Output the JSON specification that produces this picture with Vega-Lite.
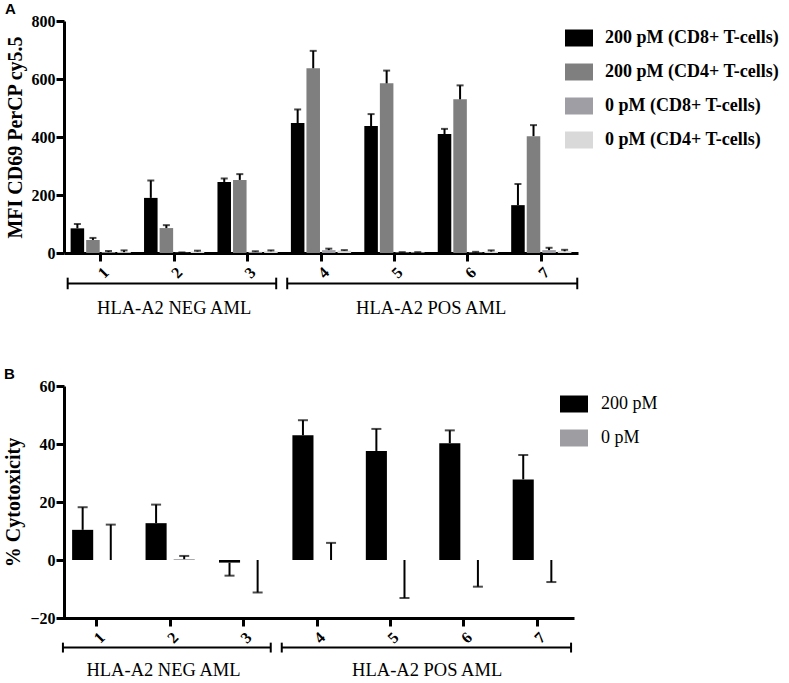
{
  "$schema": "https://vega.github.io/schema/vega-lite/v6.json",
  "background": "white",
  "padding": {"left": 3, "top": 2, "right": 0, "bottom": 0},
  "spacing": 49,
  "resolve": {
    "scale": {"color": "independent", "xOffset": "independent"},
    "legend": {"color": "independent"}
  },
  "config": {
    "view": {"stroke": null},
    "font": "Liberation Serif",
    "axis": {
      "grid": false,
      "domainColor": "black",
      "domainWidth": 3,
      "tickColor": "black",
      "tickWidth": 3,
      "tickSize": 8,
      "labelColor": "black",
      "titleColor": "black",
      "labelFont": "Liberation Serif",
      "titleFont": "Liberation Serif",
      "labelFontSize": 16,
      "labelFontWeight": "bold",
      "titleFontSize": 20,
      "titleFontWeight": "bold"
    },
    "legend": {
      "orient": "none",
      "title": null,
      "symbolType": "M-1,-0.607L1,-0.607L1,0.607L-1,0.607Z",
      "symbolSize": 784,
      "symbolStrokeWidth": 0,
      "labelFont": "Liberation Serif",
      "labelFontSize": 18,
      "labelColor": "black",
      "labelLimit": 300,
      "rowPadding": 11
    },
    "title": {"font": "Liberation Sans", "fontSize": 15, "fontWeight": "bold", "color": "black", "anchor": "start", "frame": "bounds"}
  },
  "vconcat": [
    {
      "width": 514,
      "height": 232,
      "title": {"text": "A", "offset": -4},
      "layer": [
        {
          "data": {
            "values": [
              {"sample": "1", "condition": "200 pM (CD8+ T-cells)", "mean": 85, "err": 100},
              {"sample": "1", "condition": "200 pM (CD4+ T-cells)", "mean": 45, "err": 52},
              {"sample": "1", "condition": "0 pM (CD8+ T-cells)", "mean": 3, "err": 7},
              {"sample": "1", "condition": "0 pM (CD4+ T-cells)", "mean": 3, "err": 9},
              {"sample": "2", "condition": "200 pM (CD8+ T-cells)", "mean": 190, "err": 250},
              {"sample": "2", "condition": "200 pM (CD4+ T-cells)", "mean": 86, "err": 96},
              {"sample": "2", "condition": "0 pM (CD8+ T-cells)", "mean": 1, "err": 2},
              {"sample": "2", "condition": "0 pM (CD4+ T-cells)", "mean": 5, "err": 8},
              {"sample": "3", "condition": "200 pM (CD8+ T-cells)", "mean": 245, "err": 257},
              {"sample": "3", "condition": "200 pM (CD4+ T-cells)", "mean": 252, "err": 272},
              {"sample": "3", "condition": "0 pM (CD8+ T-cells)", "mean": 4, "err": 6},
              {"sample": "3", "condition": "0 pM (CD4+ T-cells)", "mean": 6, "err": 9},
              {"sample": "4", "condition": "200 pM (CD8+ T-cells)", "mean": 448, "err": 495},
              {"sample": "4", "condition": "200 pM (CD4+ T-cells)", "mean": 637, "err": 697},
              {"sample": "4", "condition": "0 pM (CD8+ T-cells)", "mean": 10, "err": 15},
              {"sample": "4", "condition": "0 pM (CD4+ T-cells)", "mean": 8, "err": 10},
              {"sample": "5", "condition": "200 pM (CD8+ T-cells)", "mean": 438, "err": 479},
              {"sample": "5", "condition": "200 pM (CD4+ T-cells)", "mean": 585, "err": 629},
              {"sample": "5", "condition": "0 pM (CD8+ T-cells)", "mean": 2, "err": 3},
              {"sample": "5", "condition": "0 pM (CD4+ T-cells)", "mean": 2, "err": 3},
              {"sample": "6", "condition": "200 pM (CD8+ T-cells)", "mean": 410, "err": 428},
              {"sample": "6", "condition": "200 pM (CD4+ T-cells)", "mean": 530, "err": 578},
              {"sample": "6", "condition": "0 pM (CD8+ T-cells)", "mean": 2, "err": 4},
              {"sample": "6", "condition": "0 pM (CD4+ T-cells)", "mean": 5, "err": 9},
              {"sample": "7", "condition": "200 pM (CD8+ T-cells)", "mean": 165, "err": 238},
              {"sample": "7", "condition": "200 pM (CD4+ T-cells)", "mean": 403, "err": 441},
              {"sample": "7", "condition": "0 pM (CD8+ T-cells)", "mean": 10, "err": 18},
              {"sample": "7", "condition": "0 pM (CD4+ T-cells)", "mean": 6, "err": 11}
            ]
          },
          "encoding": {
            "x": {
              "field": "sample",
              "type": "nominal",
              "sort": null,
              "scale": {"type": "band", "paddingInner": 0.18, "paddingOuter": 0.09},
              "axis": {"title": null, "labelAngle": -45, "labelPadding": 3, "labelFont": "Liberation Serif", "labelFontWeight": "bold"}
            },
            "xOffset": {
              "field": "condition",
              "type": "nominal",
              "sort": ["200 pM (CD8+ T-cells)", "200 pM (CD4+ T-cells)", "0 pM (CD8+ T-cells)", "0 pM (CD4+ T-cells)"],
              "scale": {"paddingInner": 0.13}
            }
          },
          "layer": [
            {
              "mark": {"type": "bar"},
              "encoding": {
                "y": {
                  "field": "mean",
                  "type": "quantitative",
                  "scale": {"domain": [0, 800], "nice": false},
                  "axis": {"title": "MFI CD69 PerCP cy5.5", "values": [0, 200, 400, 600, 800], "labelPadding": 1, "titlePadding": 6, "labelFont": "Liberation Serif", "labelFontWeight": "bold"}
                },
                "color": {
                  "field": "condition",
                  "type": "nominal",
                  "sort": ["200 pM (CD8+ T-cells)", "200 pM (CD4+ T-cells)", "0 pM (CD8+ T-cells)", "0 pM (CD4+ T-cells)"],
                  "scale": {"range": ["#000000", "#7f7f7f", "#9e9ea4", "#d9d9d9"]},
                  "legend": {"legendX": 501, "legendY": 3, "labelFontWeight": "bold", "labelOffset": 12}
                }
              }
            },
            {
              "mark": {"type": "rule", "strokeWidth": 2, "color": "black"},
              "encoding": {
                "y": {"field": "mean", "type": "quantitative", "scale": {"domain": [0, 800]}},
                "y2": {"field": "err"}
              }
            },
            {
              "mark": {"type": "tick", "size": 7, "thickness": 2, "color": "black"},
              "encoding": {
                "y": {"field": "err", "type": "quantitative", "scale": {"domain": [0, 800]}}
              }
            }
          ]
        },
        {
          "data": {
            "values": [
              {"group": "HLA-A2 NEG AML", "from": 0.55, "to": 3.39, "center": 2},
              {"group": "HLA-A2 POS AML", "from": 3.54, "to": 7.49, "center": 5.5}
            ]
          },
          "layer": [
            {
              "mark": {"type": "rule", "strokeWidth": 2, "color": "black"},
              "encoding": {
                "x": {"field": "from", "type": "quantitative", "scale": {"domain": [0.5, 7.5], "nice": false, "zero": false}, "axis": null},
                "x2": {"field": "to"},
                "y": {"datum": -105, "type": "quantitative", "scale": {"domain": [0, 800]}}
              }
            },
            {
              "transform": [{"fold": ["from", "to"], "as": ["end", "pos"]}],
              "mark": {"type": "rule", "strokeWidth": 2, "color": "black"},
              "encoding": {
                "x": {"field": "pos", "type": "quantitative", "scale": {"domain": [0.5, 7.5], "nice": false, "zero": false}, "axis": null},
                "y": {"datum": -85, "type": "quantitative", "scale": {"domain": [0, 800]}},
                "y2": {"datum": -125}
              }
            },
            {
              "mark": {"type": "text", "fontSize": 18.5, "color": "black", "baseline": "middle"},
              "encoding": {
                "x": {"field": "center", "type": "quantitative", "scale": {"domain": [0.5, 7.5], "nice": false, "zero": false}, "axis": null},
                "y": {"datum": -191, "type": "quantitative", "scale": {"domain": [0, 800]}},
                "text": {"field": "group"}
              }
            }
          ]
        }
      ],
      "resolve": {"scale": {"x": "independent"}}
    },
    {
      "width": 508,
      "height": 232,
      "title": {"text": "B", "offset": -4},
      "layer": [
        {
          "data": {
            "values": [
              {"sample": "1", "condition": "200 pM", "mean": 10.4, "err": 18.2},
              {"sample": "1", "condition": "0 pM", "mean": 0, "err": 12.2},
              {"sample": "2", "condition": "200 pM", "mean": 12.7, "err": 19.1},
              {"sample": "2", "condition": "0 pM", "mean": 0.3, "err": 1.4},
              {"sample": "3", "condition": "200 pM", "mean": -0.9, "err": -5.4},
              {"sample": "3", "condition": "0 pM", "mean": 0, "err": -11.2},
              {"sample": "4", "condition": "200 pM", "mean": 43.0, "err": 48.2},
              {"sample": "4", "condition": "0 pM", "mean": 0, "err": 5.9},
              {"sample": "5", "condition": "200 pM", "mean": 37.6, "err": 45.2},
              {"sample": "5", "condition": "0 pM", "mean": 0, "err": -13.1},
              {"sample": "6", "condition": "200 pM", "mean": 40.3, "err": 44.7},
              {"sample": "6", "condition": "0 pM", "mean": 0, "err": -9.2},
              {"sample": "7", "condition": "200 pM", "mean": 27.8, "err": 36.2},
              {"sample": "7", "condition": "0 pM", "mean": 0, "err": -7.6}
            ]
          },
          "encoding": {
            "x": {
              "field": "sample",
              "type": "nominal",
              "sort": null,
              "scale": {"type": "band", "paddingInner": 0.33, "paddingOuter": 0.165, "range": [-4, 510]},
              "axis": {"title": null, "labelAngle": -45, "labelPadding": 3, "labelFont": "Liberation Serif", "labelFontWeight": "bold"}
            },
            "xOffset": {
              "field": "condition",
              "type": "nominal",
              "sort": ["200 pM", "0 pM"],
              "scale": {"paddingInner": 0.25}
            }
          },
          "layer": [
            {
              "mark": {"type": "bar"},
              "encoding": {
                "y": {
                  "field": "mean",
                  "type": "quantitative",
                  "scale": {"domain": [-20, 60], "nice": false},
                  "axis": {"title": "% Cytotoxicity", "values": [-20, 0, 20, 40, 60], "labelPadding": 1, "titlePadding": 6, "labelFont": "Liberation Serif", "labelFontWeight": "bold"}
                },
                "color": {
                  "field": "condition",
                  "type": "nominal",
                  "sort": ["200 pM", "0 pM"],
                  "scale": {"range": ["#000000", "#9e9ea2"]},
                  "legend": {"legendX": 496, "legendY": 4, "labelOffset": 13}
                }
              }
            },
            {
              "mark": {"type": "rule", "strokeWidth": 2, "color": "black"},
              "encoding": {
                "y": {"field": "mean", "type": "quantitative", "scale": {"domain": [-20, 60]}},
                "y2": {"field": "err"}
              }
            },
            {
              "mark": {"type": "tick", "size": 10, "thickness": 2, "color": "black"},
              "encoding": {
                "y": {"field": "err", "type": "quantitative", "scale": {"domain": [-20, 60]}}
              }
            }
          ]
        },
        {
          "mark": {"type": "rule", "strokeWidth": 3, "color": "black"},
          "encoding": {
            "y": {"datum": 0, "type": "quantitative", "scale": {"domain": [-20, 60]}}
          }
        },
        {
          "data": {
            "values": [
              {"group": "HLA-A2 NEG AML", "from": 0.54, "to": 3.37, "center": 1.91},
              {"group": "HLA-A2 POS AML", "from": 3.52, "to": 7.46, "center": 5.5}
            ]
          },
          "layer": [
            {
              "mark": {"type": "rule", "strokeWidth": 2, "color": "black"},
              "encoding": {
                "x": {"field": "from", "type": "quantitative", "scale": {"domain": [0.5, 7.5], "nice": false, "zero": false, "range": [-4, 510]}, "axis": null},
                "x2": {"field": "to"},
                "y": {"datum": -30.2, "type": "quantitative", "scale": {"domain": [-20, 60]}}
              }
            },
            {
              "transform": [{"fold": ["from", "to"], "as": ["end", "pos"]}],
              "mark": {"type": "rule", "strokeWidth": 2, "color": "black"},
              "encoding": {
                "x": {"field": "pos", "type": "quantitative", "scale": {"domain": [0.5, 7.5], "nice": false, "zero": false, "range": [-4, 510]}, "axis": null},
                "y": {"datum": -28.5, "type": "quantitative", "scale": {"domain": [-20, 60]}},
                "y2": {"datum": -31.9}
              }
            },
            {
              "mark": {"type": "text", "fontSize": 18.5, "color": "black", "baseline": "middle"},
              "encoding": {
                "x": {"field": "center", "type": "quantitative", "scale": {"domain": [0.5, 7.5], "nice": false, "zero": false, "range": [-4, 510]}, "axis": null},
                "y": {"datum": -38, "type": "quantitative", "scale": {"domain": [-20, 60]}},
                "text": {"field": "group"}
              }
            }
          ]
        }
      ],
      "resolve": {"scale": {"x": "independent"}}
    }
  ]
}
